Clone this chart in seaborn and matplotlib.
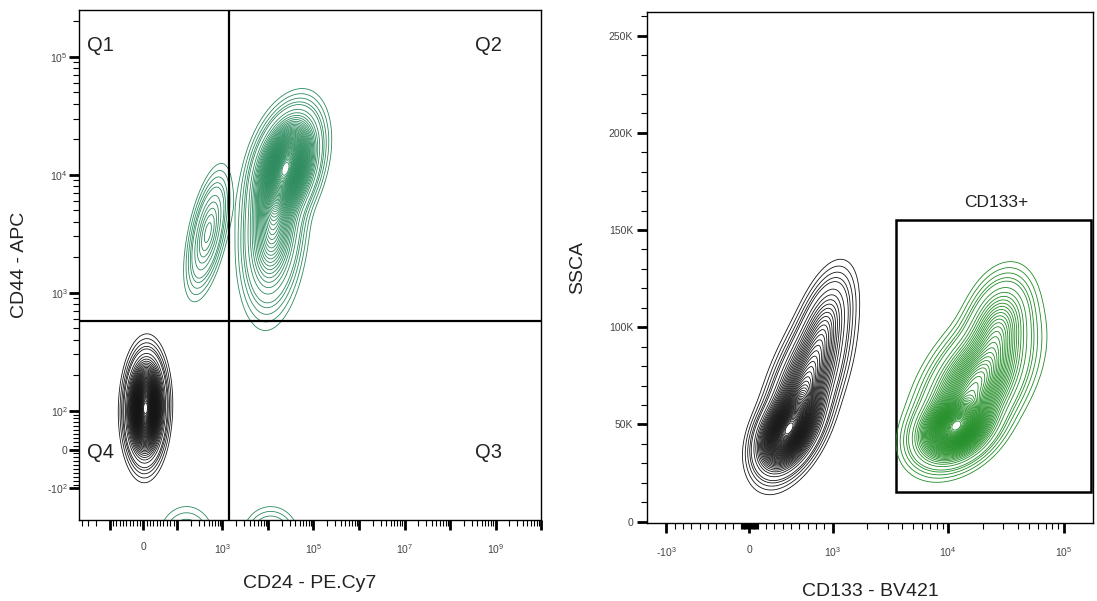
import numpy as np
import matplotlib
matplotlib.use("Agg")
import matplotlib.pyplot as plt
import matplotlib.ticker as mticker
from matplotlib.patches import Rectangle
import seaborn as sns

# --- DATA ---
# populations: centre / spread / tilt / peak height,
# positions in display decades on the biexponential axes, SSCA in K
# left panel: CD24 - PE.Cy7 (x) vs CD44 - APC (y)
left_black_cx = [0.05]
left_black_cy = [0.35]
left_black_sx = [0.18]
left_black_sy = [0.19]
left_black_rho = [0.05]
left_black_w = [1.0]

left_green_cx = [3.15, 2.85, 1.42, 0.95, 2.80]
left_green_cy = [2.40, 1.90, 1.84, -0.75, -0.75]
left_green_sx = [0.30, 0.28, 0.20, 0.30, 0.28]
left_green_sy = [0.20, 0.30, 0.22, 0.135, 0.12]
left_green_rho = [0.35, 0.20, 0.55, 0.0, 0.0]
left_green_w = [1.0, 0.35, 0.15, 0.03, 0.05]

quad_x = 1400
quad_y = 580
quad_labels = ["Q1", "Q2", "Q3", "Q4"]

# right panel: CD133 - BV421 (x) vs SSCA (y)
right_black_cx = [0.36, 0.25, 0.48, 0.64]
right_black_cy = [48, 43, 70, 100]
right_black_sx = [0.12, 0.10, 0.15, 0.11]
right_black_sy = [10, 8, 17, 13]
right_black_rho = [0.45, 0.3, 0.6, 0.5]
right_black_w = [1.0, 0.35, 0.55, 0.2]

right_green_cx = [1.78, 1.95, 2.15]
right_green_cy = [48, 70, 100]
right_green_sx = [0.15, 0.20, 0.13]
right_green_sy = [8, 15, 12]
right_green_rho = [0.3, 0.5, 0.3]
right_green_w = [1.0, 0.6, 0.25]

gate_x = [3550, 172000]
gate_y = [15000, 155000]
gate_label = "CD133+"

# contour levels as fraction of peak (FlowJo-like probability contours)
rel_levels = [0.004, 0.008, 0.014, 0.022] + list(np.arange(0.03, 0.98, 0.02))


def biex(T, L):
    # linear within +-T (L decades wide), log10 outside
    def fwd(x):
        x = np.asarray(x, float)
        a = np.abs(x)
        with np.errstate(divide="ignore", invalid="ignore"):
            return np.where(a <= T, x / T * L, np.sign(x) * (L + np.log10(a / T)))

    def inv(u):
        u = np.asarray(u, float)
        a = np.abs(u)
        with np.errstate(over="ignore"):
            return np.where(a <= L, u / L * T, np.sign(u) * T * 10 ** (a - L))
    return fwd, inv


def density(U, V, cx, cy, sx, sy, rho, w):
    z = np.zeros_like(U)
    for a, b, s, t, r, k in zip(cx, cy, sx, sy, rho, w):
        dx = (U - a) / s
        dy = (V - b) / t
        q = (dx ** 2 - 2 * r * dx * dy + dy ** 2) / (1 - r ** 2)
        z += k * np.exp(-0.5 * q)
    return z


def decade_minors(lo_exp, hi_exp):
    return [m * 10 ** e for e in range(lo_exp, hi_exp) for m in range(2, 10)]


sns.set_style("ticks")
plt.rcParams["font.family"] = ["Liberation Sans", "DejaVu Sans"]
plt.rcParams["mathtext.fontset"] = "custom"
plt.rcParams["mathtext.rm"] = "Liberation Sans"
plt.rcParams["mathtext.default"] = "regular"

fig = plt.figure(figsize=(10.97, 6.01), dpi=100)
ax1 = fig.add_axes([0.0720, 0.1348, 0.4212, 0.8486])
ax2 = fig.add_axes([0.5898, 0.1298, 0.4066, 0.8502])

LEFT_GREEN = "#2a8a5c"
RIGHT_GREEN = "#1e8c23"
BLACK = "#151515"
LW = 0.6

# --- LEFT PANEL ---
fx_l, ix_l = biex(100, 0.74)
fy_l, iy_l = biex(100, 0.33)
ax1.set_xscale("function", functions=(fx_l, ix_l))
ax1.set_yscale("function", functions=(fy_l, iy_l))

U, V = np.meshgrid(np.linspace(-1.6, 9.0, 500), np.linspace(-1.3, 3.9, 420))
for pars, col in [((left_black_cx, left_black_cy, left_black_sx, left_black_sy,
                    left_black_rho, left_black_w), BLACK),
                  ((left_green_cx, left_green_cy, left_green_sx, left_green_sy,
                    left_green_rho, left_green_w), LEFT_GREEN)]:
    Z = density(U, V, *pars)
    ax1.contour(ix_l(U), iy_l(V), Z, levels=np.array(rel_levels) * Z.max(),
                colors=col, linewidths=LW)

ax1.axvline(quad_x, color="black", lw=1.6)
ax1.axhline(quad_y, color="black", lw=1.6)
ax1.set_xlim(-470, 1.0e10)
ax1.set_ylim(-185, 2.5e5)

q_pos = [(0.017, 0.93), (0.857, 0.93), (0.857, 0.133), (0.017, 0.133)]
for lab, (qx, qy) in zip(quad_labels, q_pos):
    ax1.text(qx, qy, lab, transform=ax1.transAxes, fontsize=14.5, color="#222222",
             ha="left", va="center")

x_major = [-100, 0, 100] + [10 ** e for e in range(3, 11)]
x_lab = ["", "0", "", "$10^{3}$", "", "$10^{5}$", "", "$10^{7}$", "", "$10^{9}$", ""]
ax1.xaxis.set_major_locator(mticker.FixedLocator(x_major))
ax1.xaxis.set_major_formatter(mticker.FixedFormatter(x_lab))
lin_minor = [s * v for s in (-1, 1) for v in range(10, 100, 10)]
ax1.xaxis.set_minor_locator(mticker.FixedLocator(
    lin_minor + [-200, -300, -400] + decade_minors(2, 10)))

y_major = [-100, 0, 100, 1e3, 1e4, 1e5]
y_lab = ["-$10^{2}$", "0", "$10^{2}$", "$10^{3}$", "$10^{4}$", "$10^{5}$"]
ax1.yaxis.set_major_locator(mticker.FixedLocator(y_major))
ax1.yaxis.set_major_formatter(mticker.FixedFormatter(y_lab))
ax1.yaxis.set_minor_locator(mticker.FixedLocator(lin_minor + decade_minors(2, 6)))

ax1.set_xlabel("CD24 - PE.Cy7", fontsize=14, color="#222222")
ax1.set_ylabel("CD44 - APC", fontsize=14, color="#222222")
ax1.xaxis.set_label_coords(0.5, -0.108)
ax1.yaxis.set_label_coords(-0.11, 0.5)

# --- RIGHT PANEL ---
fx_r, ix_r = biex(1000, 0.72)
ax2.set_xscale("function", functions=(fx_r, ix_r))

U2, V2 = np.meshgrid(np.linspace(-1.0, 3.1, 420), np.linspace(-5, 265, 420))
for pars, col in [((right_black_cx, right_black_cy, right_black_sx, right_black_sy,
                    right_black_rho, right_black_w), BLACK),
                  ((right_green_cx, right_green_cy, right_green_sx, right_green_sy,
                    right_green_rho, right_green_w), RIGHT_GREEN)]:
    Z = density(U2, V2, *pars)
    ax2.contour(ix_r(U2), V2 * 1000, Z, levels=np.array(rel_levels) * Z.max(),
                colors=col, linewidths=LW)

ax2.add_patch(Rectangle((gate_x[0], gate_y[0]), gate_x[1] - gate_x[0],
                        gate_y[1] - gate_y[0], fill=False, edgecolor="black", lw=1.8))
ax2.set_xlim(-1470, 1.8e5)
ax2.set_ylim(-700, 262144)
ax2.text(0.782, 0.627, gate_label, transform=ax2.transAxes, fontsize=12.5,
         color="#222222", ha="center", va="center")

rx_major = [-1000, 0, 1000, 1e4, 1e5]
rx_lab = ["-$10^{3}$", "0", "$10^{3}$", "$10^{4}$", "$10^{5}$"]
ax2.xaxis.set_major_locator(mticker.FixedLocator(rx_major))
ax2.xaxis.set_major_formatter(mticker.FixedFormatter(rx_lab))
r_lin = [s * v for s in (-1, 1) for v in list(range(10, 100, 10)) + list(range(100, 1000, 100))]
ax2.xaxis.set_minor_locator(mticker.FixedLocator(r_lin + decade_minors(3, 5)))

ry_major = list(range(0, 250001, 50000))
ax2.yaxis.set_major_locator(mticker.FixedLocator(ry_major))
ax2.yaxis.set_major_formatter(mticker.FixedFormatter(
    ["0"] + [f"{v // 1000}K" for v in ry_major[1:]]))
ax2.yaxis.set_minor_locator(mticker.MultipleLocator(10000))

ax2.set_xlabel("CD133 - BV421", fontsize=14, color="#222222")
ax2.set_ylabel("SSCA", fontsize=14, color="#222222")
ax2.xaxis.set_label_coords(0.5, -0.118)
ax2.yaxis.set_label_coords(-0.137, 0.5)

for ax in (ax1, ax2):
    for sp in ax.spines.values():
        sp.set_visible(True)
        sp.set_linewidth(1.0)
        sp.set_color("black")
    ax.tick_params(which="major", length=7, width=2, direction="out", color="black",
                   labelsize=7.5, labelcolor="#444444", top=False, right=False)
    ax.tick_params(which="minor", length=4, width=0.8, direction="out", color="black",
                   top=False, right=False)
    ax.tick_params(axis="x", which="major", pad=9)
ax1.tick_params(axis="y", which="major", pad=1)
ax2.tick_params(axis="y", which="major", pad=3)

plt.savefig("out.png", dpi=100)
